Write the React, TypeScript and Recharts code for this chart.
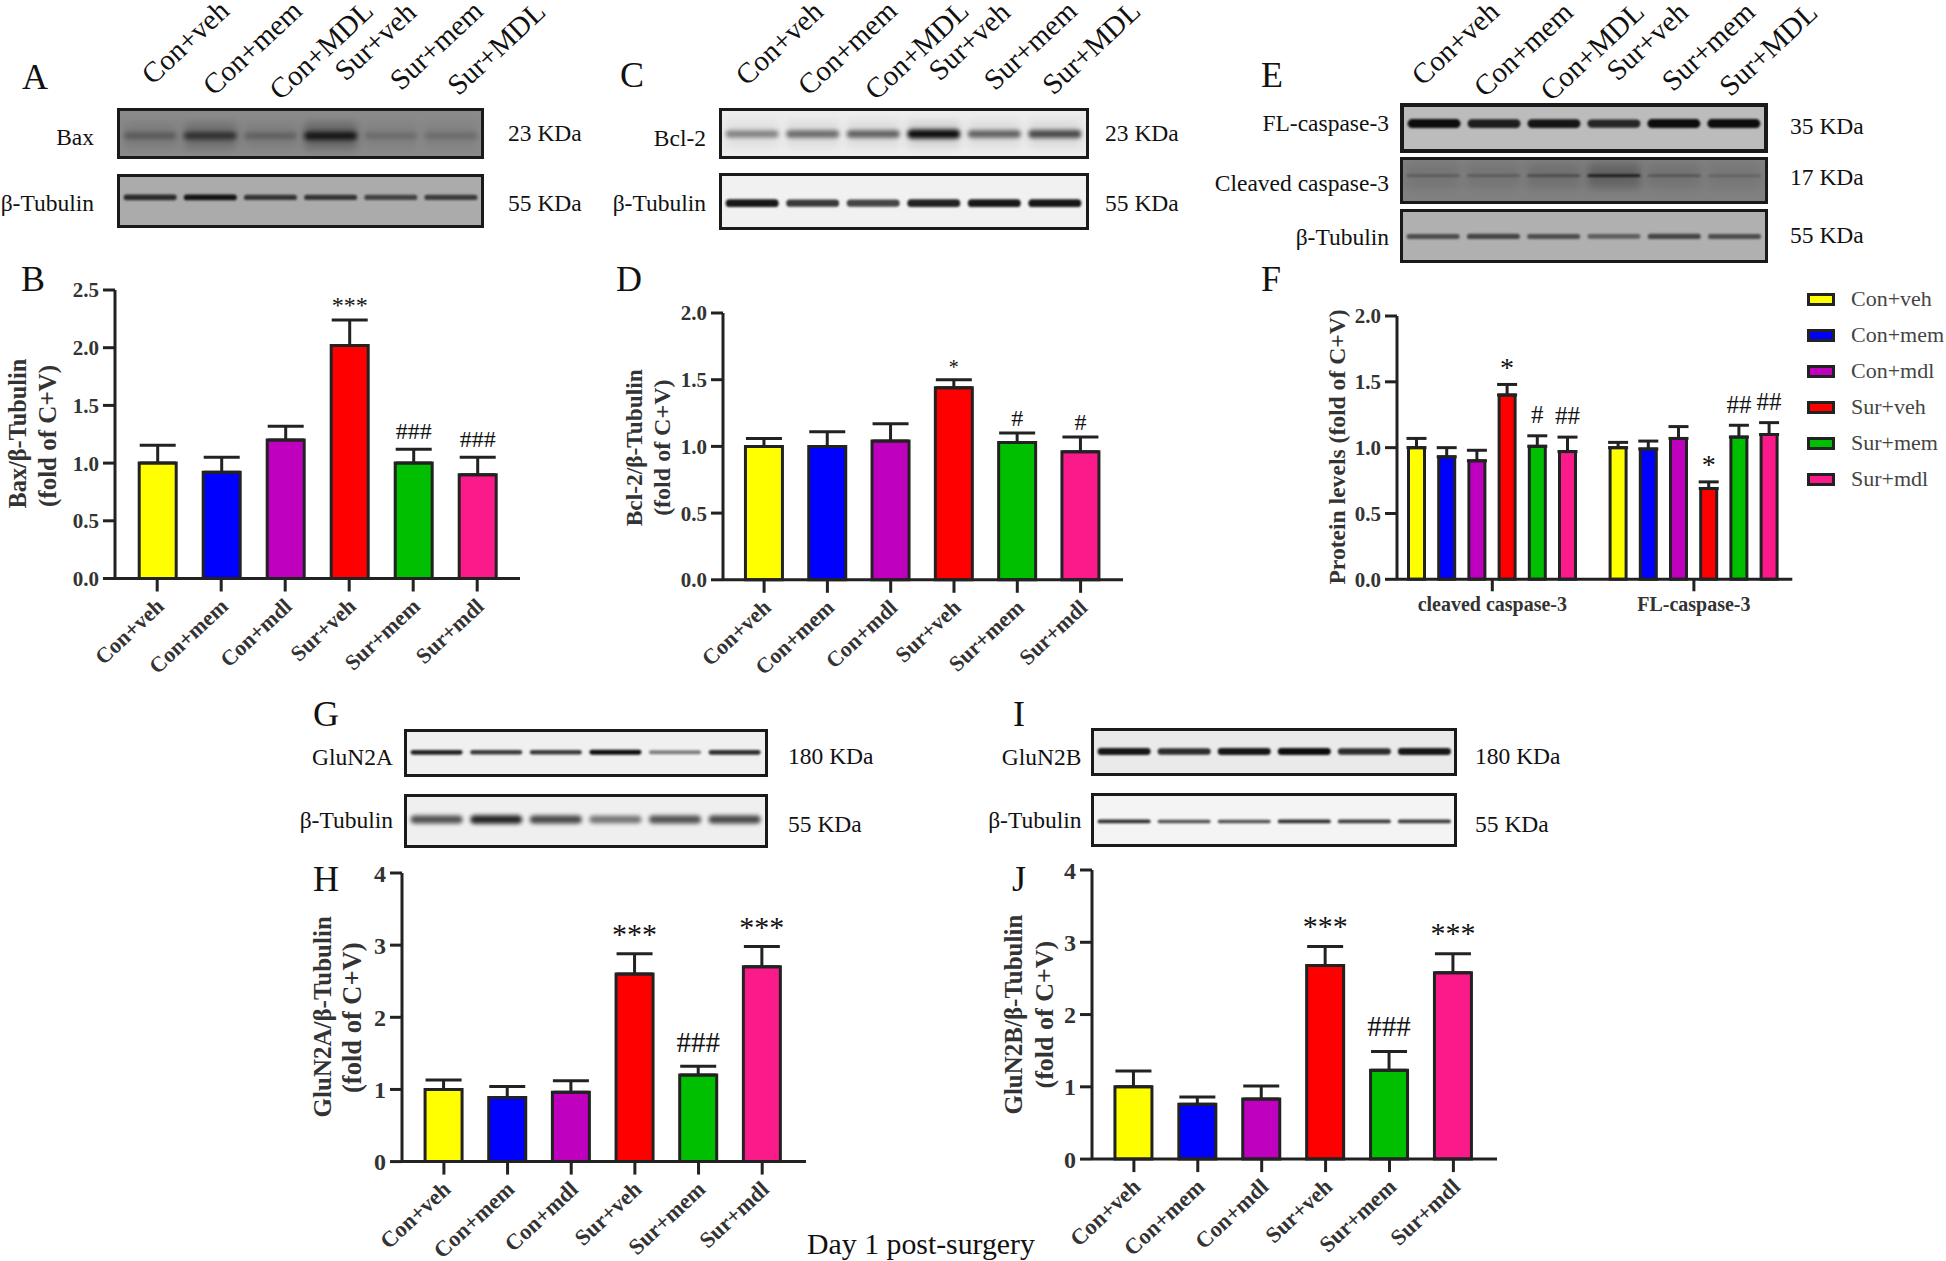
import { BarChart, Bar, Cell, ErrorBar, LabelList, Legend, XAxis, YAxis } from "recharts";

const groups = ["Con+veh", "Con+mem", "Con+mdl", "Sur+veh", "Sur+mem", "Sur+mdl"];
const colors = ["#ffff00", "#0000ff", "#bf00bf", "#ff0000", "#00bf00", "#fb1a8a"];
const lanes = ["Con+veh", "Con+mem", "Con+MDL", "Sur+veh", "Sur+mem", "Sur+MDL"];

// densities read from the blots, 0-1
const baxBands = [0.35, 0.7, 0.3, 0.95, 0.22, 0.22];
const tubABands = [0.8, 0.95, 0.75, 0.75, 0.65, 0.7];
const bcl2Bands = [0.45, 0.55, 0.6, 1, 0.6, 0.7];
const tubCBands = [0.95, 0.8, 0.75, 0.9, 0.95, 0.95];
const flBands = [1, 0.9, 0.95, 0.85, 1, 1];
const cleavedBands = [0.3, 0.3, 0.45, 0.85, 0.35, 0.25];
const tubEBands = [0.6, 0.65, 0.6, 0.5, 0.65, 0.6];
const n2aBands = [0.9, 0.8, 0.8, 1, 0.5, 0.85];
const tubGBands = [0.7, 0.9, 0.75, 0.55, 0.7, 0.75];
const n2bBands = [0.95, 0.85, 0.95, 1, 0.85, 0.95];
const tubIBands = [0.85, 0.7, 0.7, 0.85, 0.8, 0.8];

const baxValues = [1.0, 0.92, 1.2, 2.02, 1.0, 0.9];
const baxErrors = [0.155, 0.13, 0.12, 0.22, 0.12, 0.15];
const baxSigns = ["", "", "", "***", "###", "###"];

const bclValues = [1.0, 1.0, 1.04, 1.44, 1.03, 0.96];
const bclErrors = [0.06, 0.11, 0.13, 0.06, 0.07, 0.11];
const bclSigns = ["", "", "", "*", "#", "#"];

const cleavedValues = [1.0, 0.93, 0.9, 1.4, 1.01, 0.97];
const cleavedErrors = [0.07, 0.07, 0.08, 0.08, 0.08, 0.11];
const cleavedSigns = ["", "", "", "*", "#", "##"];
const flValues = [1.0, 0.99, 1.07, 0.69, 1.08, 1.1];
const flErrors = [0.04, 0.06, 0.09, 0.05, 0.09, 0.09];
const flSigns = ["", "", "", "*", "##", "##"];
const casGroups = ["cleaved caspase-3", "FL-caspase-3"];

const n2aValues = [1.0, 0.89, 0.96, 2.6, 1.2, 2.7];
const n2aErrors = [0.13, 0.15, 0.16, 0.28, 0.12, 0.28];
const n2aSigns = ["", "", "", "***", "###", "***"];

const n2bValues = [1.0, 0.76, 0.83, 2.68, 1.23, 2.58];
const n2bErrors = [0.22, 0.1, 0.18, 0.26, 0.26, 0.26];
const n2bSigns = ["", "", "", "***", "###", "***"];

const serif = "'Liberation Serif', 'Times New Roman', serif";
const ink = "#222";

function Blot({ x, y, x2, y2, bg, center, thick, bands, halo = 0, border = 3, soft = 1.3 }: any) {
  const w = x2 - x;
  const h = y2 - y;
  const data = bands.map((level: number, i: number) => ({ lane: lanes[i], level }));
  const innerH = h - border * 2;
  const cy = innerH * center;
  const band = (p: any) => {
    const t = thick * (0.6 + 0.4 * p.value);
    return (
      <g>
        {halo > 0 && (
          <rect
            x={p.x}
            y={cy - innerH * 0.3}
            width={p.width}
            height={innerH * 0.6}
            fill="#111"
            opacity={halo * p.value}
            style={{ filter: "blur(4px)" }}
          />
        )}
        <rect
          x={p.x}
          y={cy - t / 2}
          width={p.width}
          height={t}
          rx={t / 2}
          fill="#0c0c0c"
          opacity={p.value}
          style={{ filter: `blur(${soft}px)` }}
        />
      </g>
    );
  };
  return (
    <div
      style={{
        position: "absolute",
        left: x,
        top: y,
        width: w,
        height: h,
        boxSizing: "border-box",
        border: `${border}px solid #1a1a1a`,
        background: bg,
      }}
    >
      <BarChart width={w - border * 2} height={innerH} data={data} margin={{ top: 0, right: 0, bottom: 0, left: 0 }} barCategoryGap="6%">
        <XAxis dataKey="lane" hide />
        <YAxis hide domain={[0, 1]} />
        <Bar dataKey="level" shape={band} isAnimationActive={false} />
      </BarChart>
    </div>
  );
}

// significance mark sits a fixed gap above the error cap
function signLabel(errors: number[], pxPerUnit: number, gap: number, starSize: number, hashSize: number) {
  return (p: any) => {
    const sign = p.value;
    if (!sign) return null;
    const isStar = sign[0] === "*";
    const size = isStar ? starSize : hashSize;
    const capY = p.y - errors[p.index] * pxPerUnit;
    const baseline = capY - gap + size * (isStar ? 0.47 : 0.33);
    return (
      <text x={p.x + p.width / 2} y={baseline} textAnchor="middle" fontFamily={serif} fontSize={size} fill="#111">
        {sign}
      </text>
    );
  };
}

function SlantTick({ x, y, payload, size }: any) {
  const tx = x + 3;
  const ty = y + 9;
  return (
    <text
      x={tx}
      y={ty}
      textAnchor="end"
      dominantBaseline="central"
      transform={`rotate(-43 ${tx} ${ty})`}
      fontFamily={serif}
      fontWeight="bold"
      fontSize={size}
      fill="#333"
    >
      {payload.value}
    </text>
  );
}

function BarPanel({ layout, values, errors, signs, max, ticks, digits, stars, hashes, gap, tickSize, labelSize }: any) {
  const { axisX, yTop, y0, xEnd, c0, step } = layout;
  const yAxisW = 60;
  const topPad = 20;
  const xAxisH = 100;
  const left = axisX - yAxisW;
  const top = yTop - topPad;
  const data = groups.map((group, i) => ({ group, value: values[i], err: errors[i], sign: signs[i] }));
  const pxPerUnit = (y0 - yTop) / max;
  return (
    <div style={{ position: "absolute", left, top }}>
      <BarChart
        width={xEnd - left}
        height={y0 - top + xAxisH}
        data={data}
        margin={{ top: topPad, right: 0, bottom: 0, left: 0 }}
      >
        <XAxis
          dataKey="group"
          interval={0}
          height={xAxisH}
          padding={{ left: c0 - step / 2 - axisX, right: xEnd - (c0 + 5.5 * step) }}
          axisLine={{ stroke: ink, strokeWidth: 3 }}
          tickLine={{ stroke: ink, strokeWidth: 3 }}
          tickSize={13}
          tick={<SlantTick size={labelSize} />}
        />
        <YAxis
          width={yAxisW}
          domain={[0, max]}
          ticks={ticks}
          interval={0}
          tickFormatter={(v: number) => v.toFixed(digits)}
          axisLine={{ stroke: ink, strokeWidth: 3 }}
          tickLine={{ stroke: ink, strokeWidth: 3 }}
          tickSize={12}
          tickMargin={4}
          tick={{ fontFamily: serif, fontWeight: "bold", fontSize: tickSize, fill: "#333" }}
        />
        <Bar dataKey="value" barSize={37} stroke={ink} strokeWidth={3} isAnimationActive={false}>
          {data.map((d, i) => (
            <Cell key={d.group} fill={colors[i]} />
          ))}
          <ErrorBar dataKey={(d: any) => [0, d.err]} direction="y" width={18} strokeWidth={3} stroke={ink} />
          <LabelList dataKey="sign" content={signLabel(errors, pxPerUnit, gap, stars, hashes)} />
        </Bar>
      </BarChart>
    </div>
  );
}

function CaspaseLegend({ payload }: any) {
  return (
    <div style={{ width: 140 }}>
      {(payload || []).map((item: any) => (
        <div key={item.value} style={{ height: 36, display: "flex", alignItems: "center" }}>
          <span
            style={{
              display: "inline-block",
              width: 28,
              height: 13,
              boxSizing: "border-box",
              border: `3px solid ${ink}`,
              background: item.color,
              marginRight: 16,
            }}
          />
          <span style={{ fontFamily: serif, fontSize: 22, color: "#444", whiteSpace: "nowrap" }}>{item.value}</span>
        </div>
      ))}
    </div>
  );
}

function CaspasePanel() {
  const axisX = 1396.7;
  const yTop = 315.7;
  const y0 = 579;
  const yAxisW = 60;
  const topPad = 20;
  const xAxisH = 60;
  const left = axisX - yAxisW;
  const top = yTop - topPad;
  const max = 2;
  const pxPerUnit = (y0 - yTop) / max;
  const data = casGroups.map((group, g) => {
    const vals = g === 0 ? cleavedValues : flValues;
    const errs = g === 0 ? cleavedErrors : flErrors;
    const sigs = g === 0 ? cleavedSigns : flSigns;
    const row: any = { group };
    groups.forEach((name, i) => {
      row[name] = vals[i];
      row[name + " err"] = errs[i];
      row[name + " sign"] = sigs[i];
    });
    return row;
  });
  const step = 201.6;
  const c0 = 1492;
  const xEnd = 1792;
  return (
    <div style={{ position: "absolute", left, top }}>
      <BarChart
        width={1946 - left}
        height={y0 - top + xAxisH}
        data={data}
        barGap={14.2}
        margin={{ top: topPad, right: 1946 - xEnd, bottom: 0, left: 0 }}
      >
        <XAxis
          dataKey="group"
          interval={0}
          height={xAxisH}
          padding={{ left: c0 - step / 2 - axisX, right: xEnd - (c0 + 1.5 * step) }}
          axisLine={{ stroke: ink, strokeWidth: 3 }}
          tickLine={{ stroke: ink, strokeWidth: 3 }}
          tickSize={12}
          tickMargin={6}
          tick={{ fontFamily: serif, fontWeight: "bold", fontSize: 20, fill: "#333" }}
        />
        <YAxis
          width={yAxisW}
          domain={[0, max]}
          ticks={[0, 0.5, 1, 1.5, 2]}
          interval={0}
          tickFormatter={(v: number) => v.toFixed(1)}
          axisLine={{ stroke: ink, strokeWidth: 3 }}
          tickLine={{ stroke: ink, strokeWidth: 3 }}
          tickSize={12}
          tickMargin={4}
          tick={{ fontFamily: serif, fontWeight: "bold", fontSize: 21, fill: "#333" }}
        />
        <Legend
          layout="vertical"
          align="center"
          verticalAlign="middle"
          itemSorter={null}
          content={<CaspaseLegend />}
          wrapperStyle={{ left: 1807 - left, top: 281 - top, width: 140 }}
        />
        {groups.map((name, i) => (
          <Bar
            key={name}
            dataKey={name}
            name={name}
            fill={colors[i]}
            barSize={16}
            stroke={ink}
            strokeWidth={3}
            isAnimationActive={false}
          >
            <ErrorBar dataKey={(d: any) => [0, d[name + " err"]]} direction="y" width={10} strokeWidth={3} stroke={ink} />
            <LabelList
              dataKey={name + " sign"}
              content={signLabel([cleavedErrors[i], flErrors[i]], pxPerUnit, 21, 28, 25)}
            />
          </Bar>
        ))}
      </BarChart>
    </div>
  );
}

function Label({ x, y, size = 23.5, anchor = "start", weight = "normal", rotate = 0, fill = "#111", children }: any) {
  return (
    <text
      x={x}
      y={y}
      fontFamily={serif}
      fontSize={size}
      fontWeight={weight}
      fill={fill}
      textAnchor={anchor}
      dominantBaseline="central"
      transform={rotate ? `rotate(${rotate} ${x} ${y})` : undefined}
    >
      {children}
    </text>
  );
}

const laneSpotsA = [[185, 42], [252, 47.5], [321, 50], [375, 41], [436, 45], [496, 48]];
const laneSpotsC = [[779, 43], [847, 47.5], [916.5, 50], [969, 41], [1030, 45], [1091, 47.5]];
const laneSpotsE = [[1455, 43], [1523, 49], [1592, 51], [1647, 41], [1708, 46], [1768, 49]];

function Annotations() {
  const panelTags: [string, number, number][] = [
    ["A", 35, 77], ["C", 632, 75], ["E", 1272, 75], ["B", 33, 279], ["D", 629, 279], ["F", 1271, 279],
    ["G", 326, 714], ["H", 326, 879], ["I", 1019, 714], ["J", 1019, 879],
  ];
  const sideLeft: [string, number, number][] = [
    ["Bax", 94, 136.6], ["β-Tubulin", 94, 203],
    ["Bcl-2", 706, 138], ["β-Tubulin", 706, 203],
    ["FL-caspase-3", 1389, 123], ["Cleaved caspase-3", 1389, 183], ["β-Tubulin", 1389, 236.7],
    ["GluN2A", 393, 756.6], ["β-Tubulin", 393, 820],
    ["GluN2B", 1081.5, 756.6], ["β-Tubulin", 1081.5, 820],
  ];
  const sideRight: [string, number, number][] = [
    ["23 KDa", 508, 133.4], ["55 KDa", 508, 202.5],
    ["23 KDa", 1105, 133.4], ["55 KDa", 1105, 203],
    ["35 KDa", 1790, 125.5], ["17 KDa", 1790, 177], ["55 KDa", 1790, 235],
    ["180 KDa", 788, 756], ["55 KDa", 788, 824],
    ["180 KDa", 1475, 756], ["55 KDa", 1475, 824],
  ];
  const axisTitles: [string, number, number, number][] = [
    ["Bax/β-Tubulin", 17.8, 433.6, 24.3], ["(fold of C+V)", 47.5, 436, 25],
    ["Bcl-2/β-Tubulin", 634.4, 447.7, 23.4], ["(fold of C+V)", 662.5, 447.7, 24],
    ["Protein levels (fold of C+V)", 1336.8, 447, 23.6],
    ["GluN2A/β-Tubulin", 322.4, 1016.8, 25], ["(fold of C+V)", 352.5, 1017.7, 26.5],
    ["GluN2B/β-Tubulin", 1013.5, 1014.6, 25], ["(fold of C+V)", 1044.3, 1014.6, 26],
  ];
  return (
    <svg width={1946} height={1261} style={{ position: "absolute", left: 0, top: 0, pointerEvents: "none" }}>
      {panelTags.map(([t, x, y]) => (
        <Label key={t} x={x} y={y} size={36} anchor="middle">{t}</Label>
      ))}
      {[laneSpotsA, laneSpotsC, laneSpotsE].map((spots, s) =>
        spots.map(([x, y], i) => (
          <Label key={`${s}-${i}`} x={x} y={y} size={29} anchor="middle" rotate={-43}>{lanes[i]}</Label>
        ))
      )}
      {sideLeft.map(([t, x, y]) => (
        <Label key={`${t}${x}`} x={x} y={y} anchor="end">{t}</Label>
      ))}
      {sideRight.map(([t, x, y]) => (
        <Label key={`${t}${x}`} x={x} y={y}>{t}</Label>
      ))}
      {axisTitles.map(([t, x, y, size]) => (
        <Label key={`${t}${x}`} x={x} y={y} size={size} anchor="middle" weight="bold" rotate={-90} fill="#333">{t}</Label>
      ))}
      <Label x={921} y={1243.6} size={29.8} anchor="middle">Day 1 post-surgery</Label>
    </svg>
  );
}

export default function App() {
  return (
    <div style={{ position: "absolute", left: 0, top: 0, width: 1946, height: 1261, background: "#fff", overflow: "hidden" }}>
      <Blot x={117} y={108.4} x2={484} y2={158.7} bg="#8a8a8a" center={0.56} thick={8} bands={baxBands} halo={0.3} soft={2.4} />
      <Blot x={117} y={174.3} x2={484} y2={227.7} bg="#ababab" center={0.43} thick={6} bands={tubABands} />
      <Blot x={719.4} y={108.4} x2={1088.7} y2={158.7} bg="#ededed" center={0.52} thick={9} bands={bcl2Bands} halo={0.12} soft={2} />
      <Blot x={719.4} y={172.6} x2={1088.7} y2={229.8} bg="#f1f1f1" center={0.53} thick={8} bands={tubCBands} />
      <Blot x={1400} y={102.9} x2={1767.7} y2={153.5} bg="#bcbcbc" center={0.39} thick={9} bands={flBands} border={4} />
      <Blot x={1400} y={156.7} x2={1767.7} y2={204} bg="#808080" center={0.38} thick={3} bands={cleavedBands} halo={0.3} />
      <Blot x={1400} y={209} x2={1767.7} y2={262.9} bg="#b0b0b0" center={0.51} thick={6} bands={tubEBands} />
      <Blot x={404} y={729.3} x2={767.7} y2={776.7} bg="#f0f0f0" center={0.49} thick={5} bands={n2aBands} />
      <Blot x={404} y={793.8} x2={767.7} y2={847.7} bg="#efefef" center={0.47} thick={9} bands={tubGBands} soft={2} />
      <Blot x={1090.6} y={728.2} x2={1457} y2={776} bg="#eaeaea" center={0.49} thick={7} bands={n2bBands} />
      <Blot x={1090.6} y={793} x2={1457} y2={847} bg="#f4f4f4" center={0.53} thick={4} bands={tubIBands} />

      <BarPanel
        layout={{ axisX: 114.5, yTop: 289.8, y0: 578.3, xEnd: 520, c0: 156.7, step: 64 }}
        values={baxValues} errors={baxErrors} signs={baxSigns}
        max={2.5} ticks={[0, 0.5, 1, 1.5, 2, 2.5]} digits={1}
        stars={24} hashes={24} gap={18.5} tickSize={21} labelSize={22}
      />
      <BarPanel
        layout={{ axisX: 722.6, yTop: 313, y0: 579.8, xEnd: 1123.5, c0: 763.7, step: 63.3 }}
        values={bclValues} errors={bclErrors} signs={bclSigns}
        max={2} ticks={[0, 0.5, 1, 1.5, 2]} digits={1}
        stars={20} hashes={24} gap={15} tickSize={21} labelSize={22}
      />
      <CaspasePanel />
      <BarPanel
        layout={{ axisX: 401.5, yTop: 873, y0: 1161.6, xEnd: 806, c0: 443.4, step: 63.66 }}
        values={n2aValues} errors={n2aErrors} signs={n2aSigns}
        max={4} ticks={[0, 1, 2, 3, 4]} digits={0}
        stars={30} hashes={29} gap={24} tickSize={24} labelSize={22.5}
      />
      <BarPanel
        layout={{ axisX: 1091.8, yTop: 870.3, y0: 1159.4, xEnd: 1497, c0: 1133.7, step: 63.9 }}
        values={n2bValues} errors={n2bErrors} signs={n2bSigns}
        max={4} ticks={[0, 1, 2, 3, 4]} digits={0}
        stars={30} hashes={29} gap={25} tickSize={24} labelSize={22.5}
      />
      <Annotations />
    </div>
  );
}
